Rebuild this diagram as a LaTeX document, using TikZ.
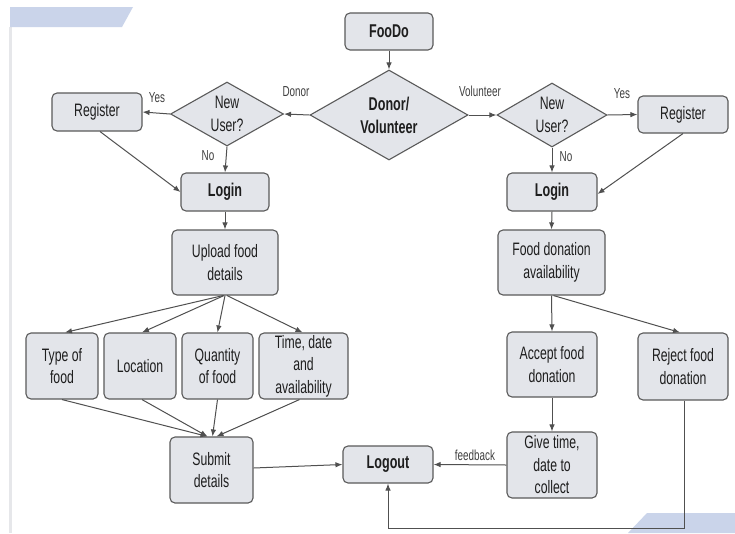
\documentclass[tikz,border=0pt]{standalone}
\usepackage{fontspec}
\setmainfont{Liberation Sans}[FakeStretch=0.68]
\usetikzlibrary{shapes.geometric,arrows.meta}
\definecolor{boxfill}{HTML}{E3E5EA}
\definecolor{boxline}{HTML}{5A5A5A}
\definecolor{conn}{HTML}{505050}
\definecolor{deco}{HTML}{CAD4EA}
\definecolor{edge}{HTML}{E6E7EA}
\definecolor{txt}{HTML}{1E1E1E}
\tikzset{
  box/.style={draw=boxline, line width=1.1pt, fill=boxfill, rounded corners=5pt,
    inner sep=0pt, align=center, text=txt, font=\fontsize{18}{22.5}\selectfont},
  bbox/.style={box, font=\fontsize{18.5}{22.5}\selectfont\bfseries},
  dec/.style={diamond, draw=boxline, line width=1.1pt, fill=boxfill, inner sep=0pt,
    align=center, text=txt, font=\fontsize{18}{22.5}\selectfont},
  conline/.style={draw=conn, line width=1pt, -{Latex[length=7pt,width=5.5pt]}},
  lbl/.style={text=txt!85, font=\fontsize{14.5}{17}\selectfont, inner sep=0pt}
}
\begin{document}
\begin{tikzpicture}[x=1pt,y=-1pt]
\useasboundingbox (0,0) rectangle (735,533);
\fill[white] (0,0) rectangle (735,533);
% decorations
\fill[edge] (9,27) rectangle (11.5,533);
\fill[deco] (10,7) -- (133,7) -- (122,27) -- (10,27) -- cycle;
\fill[deco] (647,513) -- (735,513) -- (735,533) -- (628,533) -- cycle;

% nodes
\node[bbox, minimum width=88, minimum height=37] (foodo) at (389,31.5) {FooDo};
\node[dec, aspect=1.76, minimum width=158, minimum height=90, font=\fontsize{18.5}{23}\selectfont\bfseries] (dv) at (389,115) {Donor/\\Volunteer};
\node[dec, aspect=1.77, minimum width=113, minimum height=64] (dl) at (227,114) {New\\User?};
\node[dec, aspect=1.72, minimum width=110, minimum height=64] (dr) at (552,115) {New\\User?};
\node[box, minimum width=90, minimum height=38] (regl) at (97,112) {Register};
\node[box, minimum width=90, minimum height=37] (regr) at (683,114.5) {Register};
\node[bbox, minimum width=88, minimum height=38] (loginl) at (225,192) {Login};
\node[bbox, minimum width=90, minimum height=38] (loginr) at (552,192) {Login};
\node[box, minimum width=106, minimum height=65] (upload) at (225,262.5) {Upload food\\details};
\node[box, minimum width=107, minimum height=65] (fda) at (551.5,262.5) {Food donation\\availability};
\node[box, minimum width=72, minimum height=66] (type) at (62,366) {Type of\\food};
\node[box, minimum width=72, minimum height=66] (loc) at (140,366) {Location};
\node[box, minimum width=71, minimum height=66] (qty) at (217.5,366) {Quantity\\of food};
\node[box, minimum width=89, minimum height=66] (time) at (303.5,366) {Time, date\\and\\availability};
\node[box, minimum width=90, minimum height=65] (accept) at (552,364.5) {Accept food\\donation};
\node[box, minimum width=90, minimum height=67] (reject) at (683,366.5) {Reject food\\donation};
\node[box, minimum width=83, minimum height=66] (submit) at (211.5,470) {Submit\\details};
\node[bbox, minimum width=90, minimum height=37] (logout) at (388,464.5) {Logout};
\node[box, minimum width=90, minimum height=66] (give) at (552,465) {Give time,\\date to\\collect};
\coordinate (ret) at (684,528);

% connectors
\draw[conline] (foodo.south) -- (dv.north);
\draw[conline] (dv.west) -- (dl.east);
\draw[conline] (dv.east) -- (dr.west);
\draw[conline] (dl.west) -- (regl.east);
\draw[conline] (dl.south) -- (loginl.north);
\draw[conline] ([xshift=3pt]regl.south) -- (loginl.west);
\draw[conline] (dr.east) -- (regr.west);
\draw[conline] (dr.south) -- (loginr.north);
\draw[conline] (regr.south) -- ([yshift=-2pt]loginr.east);
\draw[conline] (loginl.south) -- (upload.north);
\draw[conline] (loginr.south) -- (fda.north);
\draw[conline] ([xshift=-2pt]upload.south) -- ([xshift=3pt]type.north);
\draw[conline] ([xshift=-1pt]upload.south) -- ([xshift=2pt]loc.north);
\draw[conline] (upload.south) -- (qty.north);
\draw[conline] ([xshift=2pt]upload.south) -- ([xshift=-1pt]time.north);
\draw[conline] (type.south) -- ([xshift=-4pt]submit.north);
\draw[conline] ([xshift=2pt]loc.south) -- ([xshift=-4pt]submit.north);
\draw[conline] (qty.south) -- ([xshift=1pt]submit.north);
\draw[conline] ([xshift=-4pt]time.south) -- ([xshift=5pt]submit.north);
\draw[conline] ([yshift=2pt]submit.east) -- (logout.west);
\draw[conline] (give.west) -- (logout.east);
\draw[conline] (fda.south) -- (accept.north);
\draw[conline] ([xshift=2pt]fda.south) -- ([xshift=-3pt]reject.north);
\draw[conline] (accept.south) -- (give.north);
\draw[conline] ([xshift=1pt]reject.south) -- (reject.south -| ret) -- (ret) -- (logout.south |- ret) -- (logout.south);

% labels
\node[lbl] (ldonor) at (296,92) {Donor};
\node[lbl] (lvol) at (480,91) {Volunteer};
\node[lbl] (lyesl) at (157,98) {Yes};
\node[lbl] (lnol) at (208,156) {No};
\node[lbl] (lyesr) at (622,94) {Yes};
\node[lbl] (lnor) at (566,157) {No};
\node[lbl] (lfb) at (475,455) {feedback};
\end{tikzpicture}
\end{document}
